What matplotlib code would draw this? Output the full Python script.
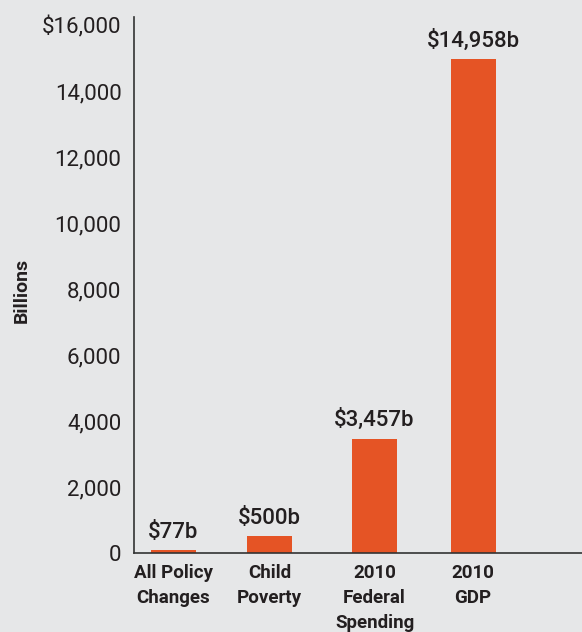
import matplotlib.pyplot as plt

categories = ['All Policy\nChanges', 'Child\nPoverty', '2010\nFederal\nSpending', '2010\nGDP']
values = [77, 500, 3457, 14958]
value_labels = ['$77b', '$500b', '$3,457b', '$14,958b']
yticks = [0, 2000, 4000, 6000, 8000, 10000, 12000, 14000, 16000]
ytick_labels = ['0', '2,000', '4,000', '6,000', '8,000', '10,000', '12,000', '14,000', '$16,000']

bg = '#e6e7e8'
bar_color = '#e55425'
text_color = '#231f20'
font = 'Roboto'

fig = plt.figure(figsize=(5.82, 6.32), dpi=100, facecolor=bg)
W, H = 582, 632
ax = fig.add_axes([134 / W, 1 - 553 / H, (W - 134) / W, (553 - 17) / H])
ax.set_facecolor(bg)

# bar centres in pixel units from the left spine
positions = [173.5, 269.5, 374.5, 473]
ax.bar(positions, values, width=45, color=bar_color)
ax.set_xlim(134, 582)
ax.set_ylim(0, 16242)

for x, v, lab in zip(positions, values, value_labels):
    ax.text(x, v + 230, lab, ha='center', va='bottom', fontsize=16,
            family=font, fontweight=500, color=text_color)

ax.set_yticks(yticks)
ax.set_yticklabels(ytick_labels, family=font, fontsize=16, color=text_color)
ax.set_xticks(positions)
ax.set_xticklabels(categories, family=font, fontweight='bold', fontsize=13.5,
                   color=text_color, linespacing=1.5, va='top')
ax.tick_params(axis='both', length=0)
ax.tick_params(axis='y', pad=9)
ax.tick_params(axis='x', pad=8)

for s in ['top', 'right']:
    ax.spines[s].set_visible(False)
for s in ['left', 'bottom']:
    ax.spines[s].set_color('#333333')
    ax.spines[s].set_linewidth(1.2)

fig.text(22 / W, 1 - 290 / H, 'Billions', rotation=90, ha='center', va='center',
         family=font, fontweight='bold', fontsize=14, color=text_color)

fig.savefig('out.png', dpi=100, facecolor=bg)
